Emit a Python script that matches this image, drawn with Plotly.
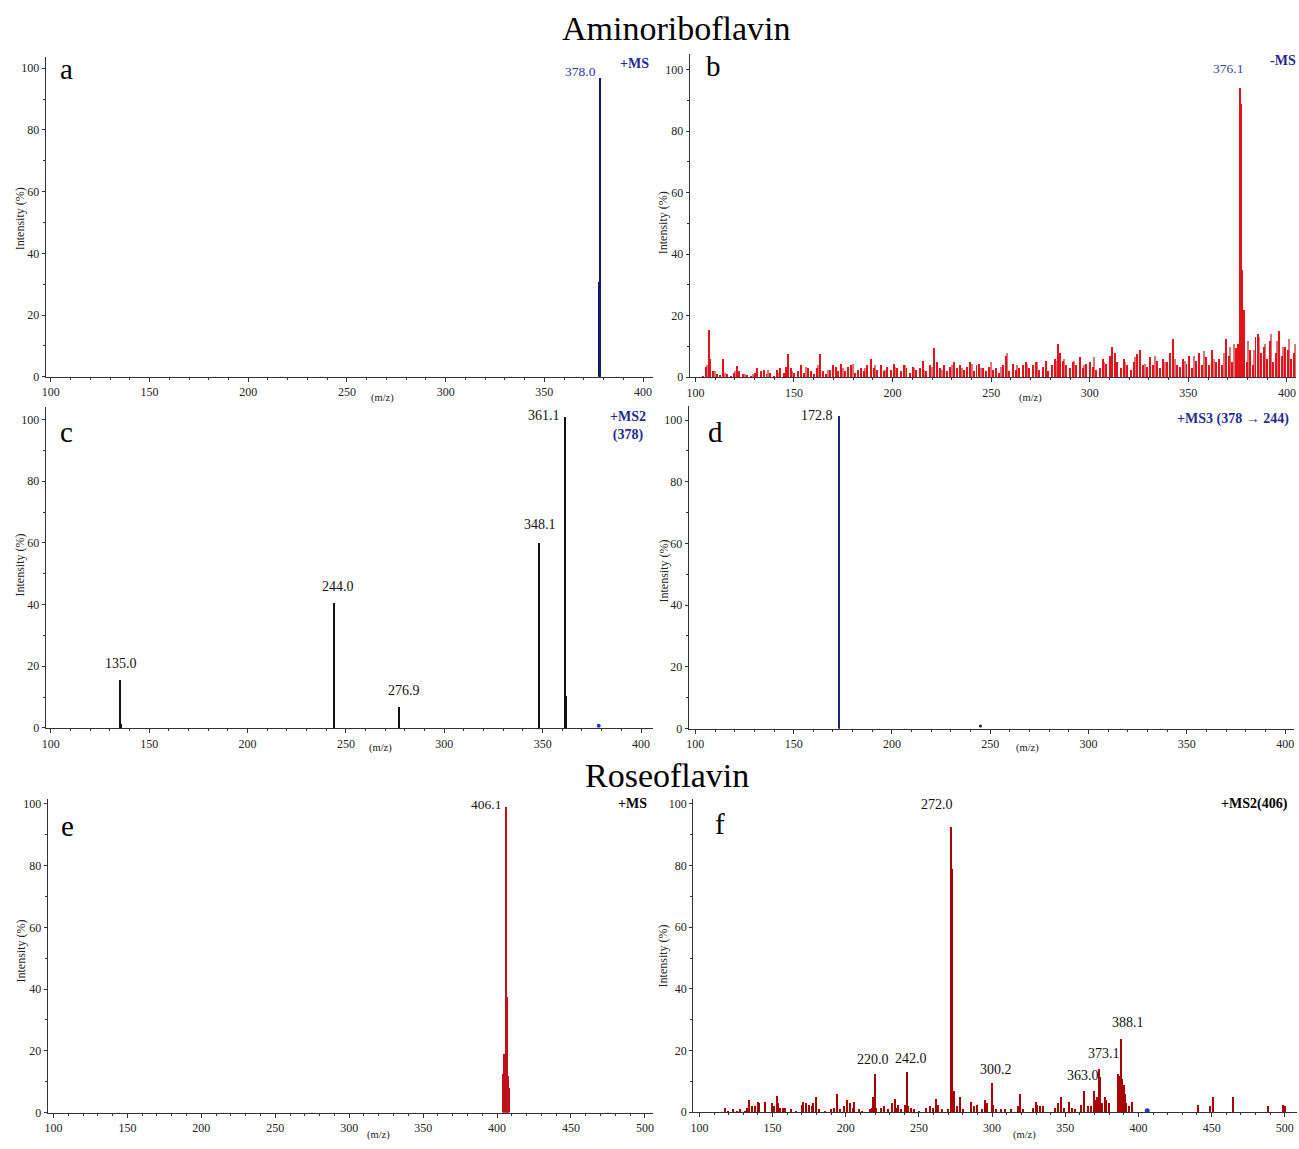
import plotly.graph_objects as go

# ---------------- data ----------------
# (a) Aminoriboflavin +MS
a_mz = [377.6, 378.0, 378.3]
a_int = [31, 97, 61]

# (b) Aminoriboflavin -MS  (main red sticks)
b_mz = [104, 105.5, 107, 107.6, 109, 111, 112.5, 114, 116, 118,
        119.5, 121, 122, 124, 126, 128, 130, 131, 133, 134.5,
        136, 138, 140, 141.5, 143, 145, 146, 147, 148.5, 150,
        152, 153.5, 155, 157, 158.5, 160, 161.5, 163, 164.5, 166,
        168, 169.5, 171, 172.5, 174, 176, 177.5, 179, 181, 182.5,
        184, 185.5, 187, 189, 190.5, 192, 194, 195.5, 197, 199,
        200.5, 202, 204, 205.5, 207, 209, 210.5, 212, 214, 215.5,
        217, 219, 221, 222.5, 224, 226, 227.5, 229, 231, 232.5,
        234, 236, 237.5, 239, 241, 242.5, 244, 246, 247.5, 249,
        251, 252.5, 254, 256, 257.5, 259, 261, 262.5, 264, 266,
        267.5, 269, 271, 272.5, 274, 276, 277.5, 279, 281, 282.5,
        284, 285, 286.5, 288, 290, 291.5, 293, 295, 296.5, 298,
        300, 301.5, 303, 305, 306.5, 308, 310, 311, 312.5, 314,
        316, 317.5, 319, 321, 322.5, 324, 325.5, 327, 329, 330.5,
        332, 334, 335.5, 337, 339, 340.5, 342, 344, 345.5, 347,
        349, 350.5, 352, 354, 355.5, 357, 359, 360.5, 362, 364,
        365.5, 367, 369, 370.5, 372, 374, 375.2, 376.1, 376.6, 377.3,
        378, 379.5, 381, 382.5, 384, 385.5, 387, 388.5, 390, 391.5,
        393, 394.5, 396, 397.5, 399, 400.5, 402, 403.5]
b_int = [0.5, 3.5, 15.5, 6, 2, 1, 0.8, 6, 1.2, 0.5,
         1.5, 3.8, 2, 1, 0.8, 0.5, 1.5, 3, 2, 2.5,
         1, 1.5, 0.5, 2.5, 3, 1.5, 3.5, 7.5, 3, 1.5,
         2, 4, 1.5, 3, 2, 1, 3, 7.5, 2, 1,
         2.5, 4, 3.5, 2, 4.5, 2, 3.5, 4, 1.5, 2.5,
         3, 2, 4, 6, 3, 2.5, 4, 2, 3.5, 2.5,
         4.5, 3, 2, 4, 3, 1.5, 3.5, 2.5, 3, 5.5,
         2, 4, 9.5, 5, 3, 4, 2, 3.5, 5, 3,
         4, 2.5, 3.5, 5, 2, 4, 4.5, 3, 2, 3.5,
         2.5, 3, 1.5, 4, 7, 2, 4.5, 2.5, 3, 4,
         5, 3, 4, 5, 2.5, 3.5, 5.5, 2, 4, 6,
         11, 8, 5.5, 4, 3, 5, 4, 6.5, 3, 4.5,
         5, 3.5, 2.5, 3, 6, 4.5, 7, 10, 8, 5,
         3, 6, 4, 2.5, 5, 7.5, 9, 4, 3.5, 6.5,
         4, 5.5, 3, 6, 5, 8, 12.5, 4, 3.5, 6,
         4.5, 7, 3, 5.5, 8, 4, 6.5, 4, 9, 5,
         6, 4, 12.5, 7, 5, 9.5, 11, 94, 89, 35,
         22, 5, 9, 4, 13, 14, 8, 10, 6, 12,
         5, 8, 15, 7, 10, 9, 6, 8]

# (b) lighter (pink) sticks
b2_mz = [106, 110, 115, 120, 125, 129, 137, 142, 149, 156,
         162, 167, 175, 180, 186, 191, 196, 201, 206, 211,
         216, 220, 225, 230, 235, 240, 245, 250, 255, 258,
         263, 268, 273, 278, 283, 287, 292, 297, 302, 307,
         313, 318, 323, 328, 333, 338, 343, 348, 353, 358,
         363, 368, 371, 373, 380, 383, 386, 389, 392, 395,
         398, 401, 404]
b2_int = [4, 2, 1.5, 2, 1, 1, 2.5, 1.5, 2, 3.5,
          4, 2.5, 3, 4.5, 3, 4, 2.5, 3.5, 4, 3,
          2.5, 3.5, 2.5, 4, 3, 4.5, 3, 5, 3.5, 8,
          4, 4.5, 5, 4, 5.5, 6, 5.5, 4, 6.5, 5,
          4.5, 5, 6.5, 4.5, 7, 5, 6, 5.5, 7, 8.5,
          6, 8, 10, 11, 12, 9, 13, 11, 14, 12,
          10, 12.5, 11]

# (c) +MS2 (378)
c_mz = [135.0, 135.4, 244.0, 276.9, 348.1, 361.1, 361.5, 361.7]
c_int = [15.5, 1.5, 40.5, 6.8, 60, 101, 57.5, 10.5]
c_prec_mz = [378.5]
c_prec_int = [0.7]

# (d) +MS3 (378 -> 244)
d_mz = [172.8, 173.2]
d_int = [101.5, 8.5]
d_small_mz = [245]
d_small_int = [0.8]

# (e) Roseoflavin +MS
e_mz = [403.8, 404.5, 405.3, 406.1, 406.5, 407.0, 407.5, 408.0]
e_int = [12.5, 19, 14, 99, 37.5, 29, 12, 8]

# (f) Roseoflavin +MS2 (406)
f_mz = [118, 120, 123, 126, 128, 131, 133, 134, 136, 138,
        140, 141, 145, 150, 151, 153, 154, 155, 157, 159,
        163, 166, 170, 171, 173, 175, 177, 178, 180, 182,
        186, 190, 192, 194, 196, 199, 201, 203, 205, 206,
        209, 211, 217, 218, 219, 220, 221, 224, 226, 229,
        232, 234, 235, 236, 238, 241, 242, 243, 245, 247,
        250, 255, 258, 260, 262, 263, 266, 270, 272, 272.5,
        273, 274, 276, 278, 280, 286, 288, 290, 293, 295,
        297, 300, 301, 303, 306, 309, 313, 318, 319, 321,
        328, 330, 331, 333, 335, 343, 345, 347, 349, 353,
        355, 357, 361, 363, 366, 368, 370, 371, 372, 373,
        374, 375, 377, 378, 380, 386, 387, 388, 389, 390,
        391, 392, 394, 396, 441, 449, 451, 465, 489, 499,
        500]
f_int = [1.5, 0.5, 1, 0.5, 1, 0.6, 1.5, 4, 2, 2,
         3.5, 3, 3.5, 3, 2, 5.5, 3, 1.5, 1.5, 1.5,
         1, 0.5, 2.5, 3.5, 3, 2.5, 2, 3, 5, 1,
         0.5, 1, 1.5, 6, 1, 2, 4, 3, 1.5, 3.5,
         1, 0.5, 1, 1.5, 5, 12.5, 1.5, 1.5, 2, 1,
         3, 4.5, 1.5, 2.5, 1, 2.5, 13, 2, 1.5, 1,
         0.5, 1.5, 2, 1.5, 4.5, 2.5, 1, 1, 92.5, 79,
         36, 7, 2, 5, 1, 3.5, 2, 2.5, 1, 4,
         3, 9.5, 2.5, 1, 1, 1, 1, 2, 6, 1,
         1.5, 3.5, 2.5, 2, 2, 1.5, 3, 5, 1.5, 3.5,
         1.5, 1, 2.5, 7, 2, 2, 7, 4, 5, 14,
         11.5, 3, 5, 4, 3, 12.5, 12, 24, 11, 9,
         6, 3, 2, 3.5, 2.5, 2, 5, 5, 2, 2.5,
         2]
f_prec_mz = [406]
f_prec_int = [0.5]

# peak labels
a_labels = ["378.0"]
b_labels = ["376.1"]
c_labels = ["135.0", "244.0", "276.9", "348.1", "361.1"]
d_labels = ["172.8"]
e_labels = ["406.1"]
f_labels = ["220.0", "242.0", "272.0", "300.2", "363.0", "373.1", "388.1"]

x_ticks_400 = [100, 150, 200, 250, 300, 350, 400]
x_ticks_500 = [100, 150, 200, 250, 300, 350, 400, 450, 500]
y_ticks = [0, 20, 40, 60, 80, 100]

# ---------------- layout helpers ----------------
W, H = 1299, 1149
SERIF = "Liberation Serif, Times New Roman, serif"
AXC = "#333333"
MODEBLUE = "#1f2b8f"


def px(x):
    return x / W


def py(y):
    return 1 - y / H


fig = go.Figure()

# panel geometry: pixel domains and axis ranges
panels = [
    dict(xd=(42, 651), yd=(55, 377.7), xr=(97.47, 405.05), yr=(0, 103.8), xt=x_ticks_400),
    dict(xd=(688, 1296), yd=(52, 378), xr=(97.2, 404.6), yr=(0, 105.2), xt=x_ticks_400),
    dict(xd=(42, 651), yd=(408, 731.7), xr=(97.47, 406.1), yr=(0, 104.1), xt=x_ticks_400),
    dict(xd=(687, 1294), yd=(407, 732.3), xr=(96.7, 404.5), yr=(0, 104.6), xt=x_ticks_400),
    dict(xd=(44, 651.5), yd=(803, 1119.3), xr=(96.2, 505.8), yr=(0, 101.7), xt=x_ticks_500),
    dict(xd=(691.4, 1296.5), yd=(803, 1119), xr=(95.8, 508.0), yr=(0, 101.7), xt=x_ticks_500),
]

for i, p in enumerate(panels, start=1):
    sfx = "" if i == 1 else str(i)
    fig.layout["xaxis" + sfx] = dict(
        domain=[px(p["xd"][0]), px(p["xd"][1])],
        range=list(p["xr"]), anchor="y" + sfx,
        showline=True, linecolor=AXC, linewidth=1.4, mirror=False,
        ticks="outside", ticklen=4, tickwidth=1, tickcolor=AXC,
        tickvals=p["xt"], ticktext=[str(v) for v in p["xt"]],
        minor=dict(dtick=10, tick0=100, ticks="outside", ticklen=2, tickcolor=AXC),
        showgrid=False, zeroline=False,
        tickfont=dict(family=SERIF, size=12, color="#222"),
    )
    fig.layout["yaxis" + sfx] = dict(
        domain=[py(p["yd"][1]), py(p["yd"][0])],
        range=list(p["yr"]), anchor="x" + sfx,
        showline=True, linecolor=AXC, linewidth=1.4,
        ticks="outside", ticklen=3, tickwidth=1, tickcolor=AXC,
        tickvals=y_ticks, ticktext=[str(v) for v in y_ticks],
        minor=dict(dtick=10, tick0=0, ticks="outside", ticklen=2, tickcolor=AXC),
        showgrid=False, zeroline=False,
        tickfont=dict(family=SERIF, size=12, color="#222"),
        ticklabelstandoff=0,
    )


def add_bars(i, mz, inten, color, width):
    sfx = "" if i == 1 else str(i)
    fig.add_trace(go.Bar(x=mz, y=inten, width=width, xaxis="x" + sfx, yaxis="y" + sfx,
                         marker=dict(color=color, line=dict(width=0)), showlegend=False,
                         hoverinfo="x+y"))


def add_dot(i, mz, inten, color, size):
    sfx = "" if i == 1 else str(i)
    fig.add_trace(go.Scatter(x=mz, y=inten, mode="markers", xaxis="x" + sfx, yaxis="y" + sfx,
                             marker=dict(color=color, size=size), showlegend=False))


add_bars(1, a_mz, a_int, "#0d1a73", 0.7)
add_bars(2, b2_mz, b2_int, "#d07a7a", 0.5)
add_bars(2, b_mz, b_int, "#e3121b", 0.5)
add_bars(3, c_mz, c_int, "#111111", 0.6)
add_dot(3, c_prec_mz, c_prec_int, "#1a3cc8", 4)
add_bars(4, d_mz, d_int, "#1c2580", 0.6)
add_dot(4, d_small_mz, d_small_int, "#222222", 3)
add_bars(5, e_mz, e_int, "#c0101a", 0.75)
add_bars(6, f_mz, f_int, "#a80000", 0.7)
add_dot(6, f_prec_mz, f_prec_int, "#1a3cc8", 5)

ann = []


def txt(x, y, text, size, color="#000", bold=False, xanchor="center", yanchor="middle", angle=0):
    ann.append(dict(x=px(x), y=py(y), xref="paper", yref="paper", text=("<b>%s</b>" % text) if bold else text,
                    showarrow=False, xanchor=xanchor, yanchor=yanchor, textangle=angle,
                    font=dict(family=SERIF, size=size, color=color)))


# main titles
txt(675, 27, "Aminoriboflavin", 34)
txt(665, 780, "Roseoflavin", 34)

# panel letters
for (lx, ly, letter) in [(63, 68, "a"), (712, 65, "b"), (63, 433, "c"), (714, 433, "d"), (64, 831, "e"), (718, 828, "f")]:
    txt(lx, ly, letter, 29)

# y titles and x titles
for (tx, ty) in [(16, 218), (661, 222), (16, 567), (662, 573), (17, 956), (662, 961)]:
    txt(tx, ty, "Intensity (%)", 12, color="#222", angle=-90)
for (tx, ty) in [(380, 399), (1030, 399), (378, 752), (1027, 752), (376, 1142), (1024, 1142)]:
    txt(tx, ty, "(m/z)", 10.5, color="#222")

# mode labels
txt(632, 62, "+MS", 14, MODEBLUE, bold=True)
txt(1283, 59, "-MS", 14, MODEBLUE, bold=True)
txt(626, 427, "+MS2<br>(378)", 14, MODEBLUE, bold=True)
txt(1291, 420, "+MS3 (378 → 244)", 14, MODEBLUE, bold=True, xanchor="right")
txt(630, 808, "+MS", 14, "#000", bold=True)
txt(1290, 808, "+MS2(406)", 14, "#000", bold=True, xanchor="right")


def peak_label(i, label, mz, inten, color, size, xanchor, yanchor, xshift, yshift):
    sfx = "" if i == 1 else str(i)
    ann.append(dict(x=mz, y=inten, xref="x" + sfx, yref="y" + sfx, text=label, showarrow=False,
                    xanchor=xanchor, yanchor=yanchor, xshift=xshift, yshift=yshift,
                    font=dict(family=SERIF, size=size, color=color)))


# label placements relative to peaks (style only)
peak_label(1, a_labels[0], a_mz[1], a_int[1], "#2a35a8", 13.5, "right", "bottom", -2, -3)
peak_label(2, b_labels[0], b_mz[167], b_int[167], "#3a40a0", 13.5, "center", "bottom", -12, 10)
c_idx = [0, 2, 3, 4, 5]
c_style = [("center", "bottom", 1, 7), ("center", "bottom", 4, 7), ("center", "bottom", 5, 7),
           ("center", "bottom", 1, 9), ("right", "middle", -2, 1)]
for lab, k, st in zip(c_labels, c_idx, c_style):
    peak_label(3, lab, c_mz[k], c_int[k], "#111", 14, *st)
peak_label(4, d_labels[0], d_mz[0], d_int[0], "#111", 14, "right", "middle", -3, 0)
peak_label(5, e_labels[0], e_mz[3], e_int[3], "#111", 13.5, "right", "middle", -3, 3)
f_idx = [f_mz.index(v) for v in [220, 242, 272, 300, 363, 373, 388]]
f_style = [("center", "bottom", -2, 5), ("center", "bottom", 4, 4), ("center", "middle", -14, 23),
           ("center", "bottom", 4, 4), ("center", "bottom", -1, 6), ("center", "bottom", 5, 6),
           ("center", "bottom", 7, 6)]
for lab, k, st in zip(f_labels, f_idx, f_style):
    peak_label(6, lab, f_mz[k], f_int[k], "#111", 14, *st)

fig.update_layout(
    width=W, height=H, margin=dict(l=0, r=0, t=0, b=0),
    paper_bgcolor="white", plot_bgcolor="white",
    barmode="overlay", bargap=0, showlegend=False,
    annotations=ann,
)

fig.write_html(
    "out.html",
    config={"displayModeBar": False},
    post_script="document.body.style.margin='0';document.body.style.padding='0';"
                "document.body.style.overflow='hidden';"
                "document.documentElement.style.overflow='hidden';",
)
